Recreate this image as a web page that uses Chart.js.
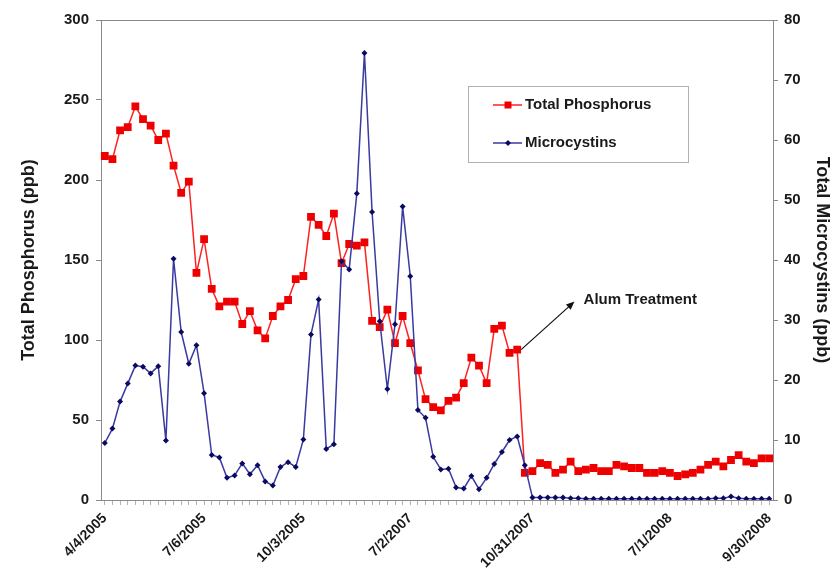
<!DOCTYPE html>
<html>
<head>
<script src="https://cdn.jsdelivr.net/npm/chart.js@4.4.0/dist/chart.umd.min.js"></script>
<style>
  html, body { margin: 0; padding: 0; background: #fff; }
</style>
</head>
<body>
<canvas id="canvas" width="837" height="579"></canvas>
<script>
// sampling dates shown on the axis and the sample slot they sit on
const tickDates = ['4/4/2005', '7/6/2005', '10/3/2005', '7/2/2007', '10/31/2007', '7/1/2008', '9/30/2008'];
const tickSlots = [0, 13, 26, 40, 56, 74, 87];

// Total Phosphorus (ppb), left axis
const phosphorus = [
  215, 213, 231, 233, 246, 238, 234, 225, 229, 209,
  192, 199, 142, 163, 132, 121, 124, 124, 110, 118,
  106, 101, 115, 121, 125, 138, 140, 177, 172, 165,
  179, 148, 160, 159, 161, 112, 108, 119, 98, 115,
  98, 81, 63, 58, 56, 62, 64, 73, 89, 84,
  73, 107, 109, 92, 94, 17, 18, 23, 22, 17,
  19, 24, 18, 19, 20, 18, 18, 22, 21, 20,
  20, 17, 17, 18, 17, 15, 16, 17, 19, 22,
  24, 21, 25, 28, 24, 23, 26, 26
];

// Total Microcystins (ppb), right axis
const microcystins = [
  9.5, 11.9, 16.4, 19.4, 22.4, 22.2, 21.1, 22.3, 9.9, 40.2,
  28, 22.7, 25.8, 17.8, 7.5, 7.1, 3.7, 4.1, 6.1, 4.3,
  5.8, 3.1, 2.4, 5.5, 6.3, 5.5, 10.1, 27.6, 33.4, 8.5,
  9.3, 39.8, 38.4, 51.1, 74.5, 48, 29.8, 18.5, 29.3, 48.9,
  37.3, 15, 13.7, 7.2, 5.1, 5.2, 2.1, 1.9, 4, 1.8,
  3.7, 6, 8, 10, 10.6, 5.8, 0.4, 0.4, 0.4, 0.4,
  0.4, 0.3, 0.3, 0.2, 0.2, 0.2, 0.2, 0.2, 0.2, 0.2,
  0.2, 0.2, 0.2, 0.2, 0.2, 0.2, 0.2, 0.2, 0.2, 0.2,
  0.3, 0.3, 0.6, 0.3, 0.2, 0.2, 0.2, 0.2
];

const alumIndex = 54;

const labels = phosphorus.map((v, i) => {
  const k = tickSlots.indexOf(i);
  return k < 0 ? '' : tickDates[k];
});

const FONT = '"Liberation Sans", Arial, sans-serif';
const TXT = '#1a1a1a';
const AXIS = '#8a8a8a';

const topBorder = {
  id: 'topBorder',
  afterDraw(chart) {
    const { ctx, chartArea: a } = chart;
    ctx.save();
    ctx.strokeStyle = AXIS;
    ctx.lineWidth = 1;
    ctx.beginPath();
    ctx.moveTo(a.left, a.top + 0.5);
    ctx.lineTo(a.right, a.top + 0.5);
    ctx.stroke();
    ctx.restore();
  }
};

function marker(ctx, style, x, y, r, color) {
  ctx.fillStyle = color;
  ctx.beginPath();
  if (style === 'rect') {
    ctx.rect(x - r, y - r, 2 * r, 2 * r);
  } else {
    ctx.moveTo(x, y - r);
    ctx.lineTo(x + r, y);
    ctx.lineTo(x, y + r);
    ctx.lineTo(x - r, y);
    ctx.closePath();
  }
  ctx.fill();
}

const legendBox = {
  id: 'legendBox',
  afterDraw(chart) {
    const ctx = chart.ctx;
    const x = 468, y = 86, w = 220, h = 76;
    ctx.save();
    ctx.fillStyle = '#fff';
    ctx.fillRect(x, y, w, h);
    ctx.strokeStyle = '#b0b0b0';
    ctx.lineWidth = 1;
    ctx.strokeRect(x + 0.5, y + 0.5, w, h);
    const items = [
      { text: 'Total Phosphorus', line: '#ff2020', pt: '#ee0000', style: 'rect', r: 3.5 },
      { text: 'Microcystins', line: '#3a3aa0', pt: '#0a0a60', style: 'diamond', r: 3 }
    ];
    items.forEach((it, i) => {
      const cy = y + 19 + i * 38;
      ctx.strokeStyle = it.line;
      ctx.lineWidth = 1.5;
      ctx.beginPath();
      ctx.moveTo(x + 25, cy);
      ctx.lineTo(x + 54, cy);
      ctx.stroke();
      marker(ctx, it.style, x + 40, cy, it.r, it.pt);
      ctx.fillStyle = TXT;
      ctx.font = 'bold 15px ' + FONT;
      ctx.textBaseline = 'middle';
      ctx.textAlign = 'left';
      ctx.fillText(it.text, x + 57, cy);
    });
    ctx.restore();
  }
};

const alumNote = {
  id: 'alumNote',
  afterDatasetsDraw(chart) {
    const ctx = chart.ctx;
    const pt = chart.getDatasetMeta(0).data[alumIndex];
    const xs = chart.scales.x, ys = chart.scales.y;
    const x0 = pt.x + 4, y0 = pt.y;
    const x1 = xs.getPixelForValue(61.5), y1 = ys.getPixelForValue(124);
    const ang = Math.atan2(y1 - y0, x1 - x0);
    ctx.save();
    ctx.strokeStyle = '#111';
    ctx.fillStyle = '#111';
    ctx.lineWidth = 1.2;
    ctx.beginPath();
    ctx.moveTo(x0, y0);
    ctx.lineTo(x1 - 6 * Math.cos(ang), y1 - 6 * Math.sin(ang));
    ctx.stroke();
    ctx.beginPath();
    ctx.moveTo(x1, y1);
    ctx.lineTo(x1 - 9 * Math.cos(ang - 0.4), y1 - 9 * Math.sin(ang - 0.4));
    ctx.lineTo(x1 - 9 * Math.cos(ang + 0.4), y1 - 9 * Math.sin(ang + 0.4));
    ctx.closePath();
    ctx.fill();
    ctx.font = 'bold 15px ' + FONT;
    ctx.textAlign = 'left';
    ctx.textBaseline = 'middle';
    ctx.fillStyle = TXT;
    ctx.fillText('Alum Treatment', xs.getPixelForValue(62.7), ys.getPixelForValue(125));
    ctx.restore();
  }
};

new Chart(document.getElementById('canvas').getContext('2d'), {
  type: 'line',
  data: {
    labels: labels,
    datasets: [
      {
        label: 'Total Phosphorus',
        data: phosphorus,
        yAxisID: 'y',
        borderColor: '#ff2020',
        backgroundColor: '#ee0000',
        borderWidth: 1.5,
        pointStyle: 'rect',
        pointRadius: 5.5,
        pointBorderWidth: 0,
        tension: 0,
        order: 1
      },
      {
        label: 'Microcystins',
        data: microcystins,
        yAxisID: 'y1',
        borderColor: '#3a3aa0',
        backgroundColor: '#0a0a60',
        borderWidth: 1.5,
        pointStyle: 'rectRot',
        pointRadius: 3,
        pointBorderWidth: 0,
        tension: 0,
        order: 0
      }
    ]
  },
  options: {
    responsive: false,
    animation: false,
    layout: { padding: { top: 20, left: 0, right: 0, bottom: 0 } },
    plugins: {
      legend: { display: false },
      tooltip: { enabled: false }
    },
    scales: {
      x: {
        offset: true,
        grid: { drawOnChartArea: false, tickLength: 5, color: '#b5b5b5' },
        border: { color: AXIS },
        ticks: {
          autoSkip: false,
          maxRotation: 45,
          minRotation: 45,
          padding: 5,
          color: TXT,
          font: { family: FONT, size: 14, weight: 'bold' }
        },
        afterFit: (s) => { s.height = 79; }
      },
      y: {
        position: 'left',
        min: 0,
        max: 300,
        grid: { drawOnChartArea: false, tickLength: 5, color: AXIS },
        border: { color: AXIS },
        ticks: {
          stepSize: 50,
          padding: 7,
          color: TXT,
          font: { family: FONT, size: 15, weight: 'bold' }
        },
        title: {
          display: true,
          text: 'Total Phosphorus (ppb)',
          color: TXT,
          font: { family: FONT, size: 18, weight: 'bold' },
          padding: { top: 18, bottom: 0 }
        },
        afterFit: (s) => { s.width = 101; }
      },
      y1: {
        position: 'right',
        min: 0,
        max: 80,
        grid: { drawOnChartArea: false, tickLength: 5, color: AXIS },
        border: { color: AXIS },
        ticks: {
          stepSize: 10,
          padding: 6,
          color: TXT,
          font: { family: FONT, size: 15, weight: 'bold' }
        },
        title: {
          display: true,
          text: 'Total Microcystins (ppb)',
          color: TXT,
          font: { family: FONT, size: 18, weight: 'bold' },
          padding: { top: 4, bottom: 0 }
        },
        afterFit: (s) => { s.width = 64; }
      }
    }
  },
  plugins: [topBorder, alumNote, legendBox]
});
</script>
</body>
</html>
